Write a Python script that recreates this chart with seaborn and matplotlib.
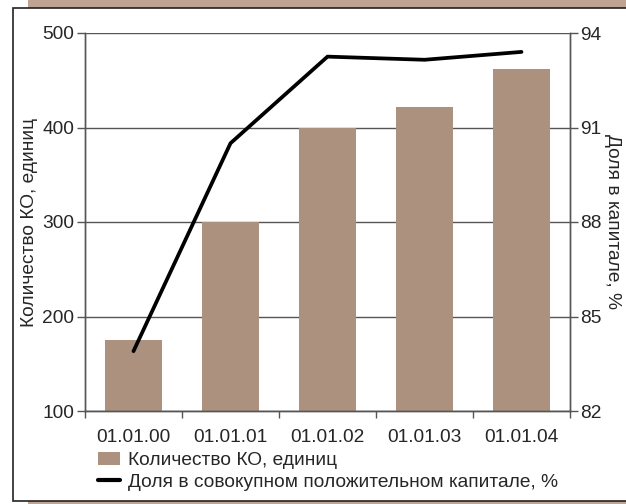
import matplotlib
matplotlib.use('Agg')
import matplotlib.pyplot as plt
import matplotlib.patches as mpatches
from matplotlib.lines import Line2D
import seaborn as sns
import pandas as pd
import numpy as np

# data
dates = ['01.01.00', '01.01.01', '01.01.02', '01.01.03', '01.01.04']
count_ko = [175, 300, 400, 422, 462]
share_pct = [83.9, 90.5, 93.25, 93.15, 93.4]

bar_label = 'Количество КО, единиц'
line_label = 'Доля в совокупном положительном капитале, %'
left_ylabel = 'Количество КО, единиц'
right_ylabel = 'Доля в капитале, %'

bar_color = '#AD917F'
band_color = '#BFA493'
grid_color = '#555555'

df = pd.DataFrame({'date': dates, 'count': count_ko, 'share': share_pct})

sns.set_theme(style='white')
plt.rcParams['font.family'] = ['Liberation Sans', 'DejaVu Sans']
fs = 13.8

fig = plt.figure(figsize=(6.26, 5.04), dpi=100)
fig.patch.set_facecolor('white')

# tan frame bits behind the white box
fig.patches.append(mpatches.Rectangle((28 / 626, 0), 1, 1, transform=fig.transFigure,
                                      facecolor=band_color, edgecolor='none', zorder=0))
fig.patches.append(mpatches.Rectangle((13 / 626, 3 / 504), 1, (501 - 8) / 504,
                                      transform=fig.transFigure, facecolor='white',
                                      edgecolor='#222222', linewidth=1.2, zorder=1))

ax = fig.add_axes([85 / 626, (504 - 411) / 504, (570 - 85) / 626, (411 - 33) / 504])
ax.set_zorder(2)
ax.patch.set_alpha(0)

sns.barplot(data=df, x='date', y='count', color=bar_color, saturation=1,
            width=0.59, linewidth=0, ax=ax, zorder=2)
ax.set_ylim(100, 500)
ax.set_yticks([100, 200, 300, 400, 500])
ax.yaxis.grid(True, color=grid_color, linewidth=1)
ax.set_axisbelow(True)
ax.set_xlim(-0.5, len(dates) - 0.5)
ax.set_xlabel('')
ax.set_ylabel(left_ylabel, fontsize=fs, va='center', ha='center', rotation=90)
ax.yaxis.set_label_coords((30 - 85) / 485, 0.5)
ax.tick_params(axis='y', which='major', length=6, width=1, color=grid_color,
               labelsize=fs, pad=2, left=True)
ax.tick_params(axis='x', which='major', length=0, labelsize=fs, pad=13)
ax.set_xticks(np.arange(-0.5, len(dates), 1.0), minor=True)
ax.tick_params(axis='x', which='minor', length=5, width=1, color=grid_color, bottom=True)

for side in ['left', 'right', 'bottom', 'top']:
    ax.spines[side].set_color(grid_color)
    ax.spines[side].set_linewidth(1)
ax.spines['top'].set_visible(False)

ax2 = ax.twinx()
sns.lineplot(data=df, x='date', y='share', color='black', linewidth=2.7,
             ax=ax2, sort=False, solid_capstyle='round')
ax2.set_ylim(82, 94)
ax2.set_yticks([82, 85, 88, 91, 94])
ax2.set_ylabel(right_ylabel, fontsize=fs, rotation=270, va='center', ha='center')
ax2.yaxis.set_label_coords((613 - 85) / 485, 0.5)
ax2.tick_params(axis='y', length=6, width=1, color=grid_color, labelsize=fs, pad=1, right=True)
for side in ['left', 'right', 'bottom', 'top']:
    ax2.spines[side].set_color(grid_color)
    ax2.spines[side].set_linewidth(1)
ax2.spines['top'].set_visible(False)
ax2.set_xlabel('')

handles = [mpatches.Patch(facecolor=bar_color, edgecolor='none'),
           Line2D([], [], color='black', linewidth=3)]
fig.legend(handles, [bar_label, line_label], loc='upper left',
           bbox_to_anchor=(98 / 626, 1 - 452 / 504), frameon=False, fontsize=fs,
           handlelength=1.15, handleheight=0.7, handletextpad=0.4, labelspacing=0.2,
           borderaxespad=0, borderpad=0)

fig.savefig('out.png', dpi=100)
